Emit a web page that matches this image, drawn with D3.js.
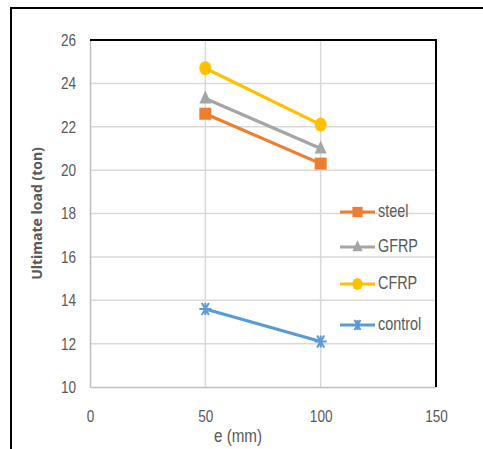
<!DOCTYPE html>
<html>
<head>
<meta charset="utf-8">
<script src="https://cdn.jsdelivr.net/npm/d3@7"></script>
<style>
  html, body { margin: 0; padding: 0; background: #fff; }
  svg { display: block; }
  text { font-family: "Liberation Sans", "Open Sans", sans-serif; fill: #595959; }
</style>
</head>
<body>
<svg id="chart" width="483" height="449"></svg>
<script>
// Eccentricity values (mm) and ultimate loads (ton) per strengthening type
const eccentricity = [50, 100];
const steel   = [22.6, 20.3];
const gfrp    = [23.3, 21.0];
const cfrp    = [24.7, 22.1];
const control = [13.6, 12.1];

const seriesNames  = ["steel", "GFRP", "CFRP", "control"];
const seriesColors = ["#ED7D31", "#A5A5A5", "#FFC000", "#5B9BD5"];
const seriesShapes = ["square", "triangle", "circle", "asterisk"];

const xTicks = [0, 50, 100, 150];
const yTicks = [10, 12, 14, 16, 18, 20, 22, 24, 26];

// horizontal squeeze that gives the labels a condensed look
const SQ = 0.8;

const svg = d3.select("#chart");

// outer frame (top and left edges)
svg.append("line").attr("x1", 11).attr("x2", 483).attr("y1", 8).attr("y2", 8)
  .attr("stroke", "#000").attr("stroke-width", 2);
svg.append("line").attr("x1", 11).attr("x2", 11).attr("y1", 7).attr("y2", 449)
  .attr("stroke", "#000").attr("stroke-width", 2);

const plot = { left: 90, top: 40, right: 436, bottom: 387 };
const x = d3.scaleLinear().domain([0, 150]).range([plot.left, plot.right]);
const y = d3.scaleLinear().domain([10, 26]).range([plot.bottom, plot.top]);

// gridlines
const grid = svg.append("g");
grid.selectAll("line.h").data(yTicks.slice(1)).join("line")
  .attr("x1", plot.left).attr("x2", plot.right)
  .attr("y1", d => y(d)).attr("y2", d => y(d))
  .attr("stroke", "#D9D9D9").attr("stroke-width", 1.5);
grid.selectAll("line.v").data(xTicks.slice(1, -1)).join("line")
  .attr("y1", plot.top).attr("y2", plot.bottom)
  .attr("x1", d => x(d)).attr("x2", d => x(d))
  .attr("stroke", "#D9D9D9").attr("stroke-width", 1.5);

// axes
const yAxis = svg.append("g").attr("transform", `translate(${plot.left},0)`)
  .call(d3.axisLeft(y).tickValues(yTicks).tickSize(0).tickPadding(14));
const xAxis = svg.append("g").attr("transform", `translate(0,${plot.bottom})`)
  .call(d3.axisBottom(x).tickValues(xTicks).tickSize(0).tickPadding(23));
[yAxis, xAxis].forEach(a => {
  a.select(".domain").attr("stroke", "#BFBFBF").attr("stroke-width", 1.5);
  a.selectAll("text").attr("font-size", 17).style("fill", "#595959")
    .style("font-family", "'Liberation Sans', sans-serif");
});
yAxis.selectAll("text").each(function () {
  const t = d3.select(this);
  t.attr("x", -14 / SQ).attr("transform", `scale(${SQ},1)`);
});
xAxis.selectAll("text").attr("transform", `scale(${SQ},1)`);

// plot border top and right
svg.append("path")
  .attr("d", `M${plot.left},${plot.top}H${plot.right}V${plot.bottom}`)
  .attr("fill", "none").attr("stroke", "#000").attr("stroke-width", 2);

// axis titles
svg.append("text")
  .attr("transform", `translate(38,${(plot.top + plot.bottom) / 2}) rotate(-90)`)
  .attr("text-anchor", "middle").attr("dominant-baseline", "middle")
  .attr("font-size", 14).attr("font-weight", "bold")
  .style("font-family", "'Open Sans', sans-serif")
  .text("Ultimate load (ton)");
svg.append("text")
  .attr("transform", `translate(238,442) scale(${SQ},1)`)
  .attr("text-anchor", "middle")
  .attr("font-size", 19)
  .text("e (mm)");

// marker drawing
function drawMarker(g, shape, color, cx, cy, s) {
  if (shape === "square") {
    g.append("rect").attr("x", cx - 6 * s).attr("y", cy - 6 * s)
      .attr("width", 12 * s).attr("height", 12 * s).attr("fill", color);
  } else if (shape === "triangle") {
    g.append("path")
      .attr("d", `M${cx},${cy - 8 * s}L${cx + 6 * s},${cy + 5 * s}L${cx - 6 * s},${cy + 5 * s}Z`)
      .attr("fill", color);
  } else if (shape === "circle") {
    g.append("ellipse").attr("cx", cx).attr("cy", cy)
      .attr("rx", 6 * s).attr("ry", 7 * s).attr("fill", color);
  } else {
    const r = 6 * s;
    const p = `M${cx - r},${cy}H${cx + r}` +
      `M${cx - r * 0.6},${cy - r}L${cx + r * 0.6},${cy + r}` +
      `M${cx + r * 0.6},${cy - r}L${cx - r * 0.6},${cy + r}` +
      `M${cx},${cy - r}V${cy + r}`;
    g.append("path").attr("d", p).attr("stroke", color)
      .attr("stroke-width", 2).attr("fill", "none");
  }
}

const allSeries = [steel, gfrp, cfrp, control];
const line = d3.line().x(d => x(d[0])).y(d => y(d[1]));

// draw in reverse so steel sits on top
allSeries.map((vals, i) => i).reverse().forEach(i => {
  const pts = eccentricity.map((e, k) => [e, allSeries[i][k]]);
  const g = svg.append("g");
  g.append("path").attr("d", line(pts)).attr("fill", "none")
    .attr("stroke", seriesColors[i]).attr("stroke-width", 3.2);
  pts.forEach(p => drawMarker(g, seriesShapes[i], seriesColors[i], x(p[0]), y(p[1]), 1));
});

// legend
const legendY = [212, 247, 284, 325];
seriesNames.forEach((name, i) => {
  const g = svg.append("g");
  const ly = legendY[i];
  g.append("line").attr("x1", 340).attr("x2", 375).attr("y1", ly).attr("y2", ly)
    .attr("stroke", seriesColors[i]).attr("stroke-width", 3.2);
  drawMarker(g, seriesShapes[i], seriesColors[i], 357.5, ly, 0.85);
  g.append("text").attr("transform", `translate(378,${ly}) scale(${SQ},1)`)
    .attr("dominant-baseline", "middle")
    .attr("font-size", 18)
    .text(name);
});
</script>
</body>
</html>
